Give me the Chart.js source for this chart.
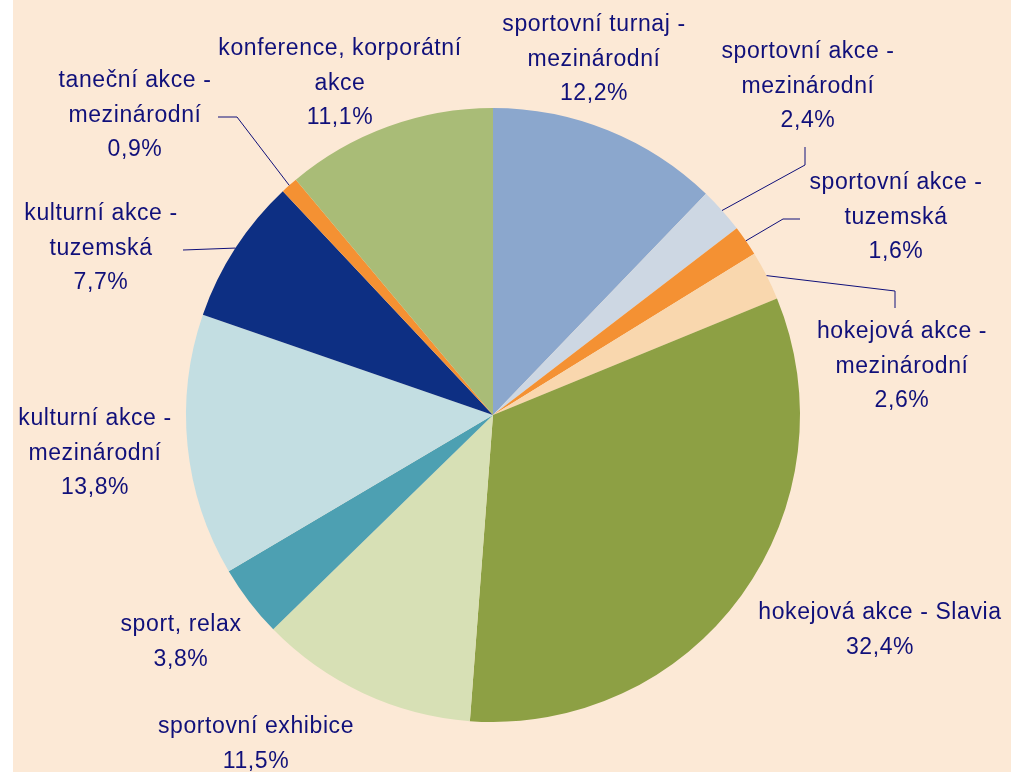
<!DOCTYPE html>
<html>
<head>
<meta charset="utf-8">
<script src="https://cdn.jsdelivr.net/npm/chart.js@4/dist/chart.umd.min.js"></script>
<style>
  body { margin: 0; background: #ffffff; }
  #wrap { width: 1011px; height: 772px; position: relative; }
</style>
</head>
<body>
<div id="wrap"><canvas id="pieChart"></canvas></div>
<script>
// data
const categories = [
  ['sportovní turnaj -', 'mezinárodní'],
  ['sportovní akce -', 'mezinárodní'],
  ['sportovní akce -', 'tuzemská'],
  ['hokejová akce -', 'mezinárodní'],
  ['hokejová akce - Slavia'],
  ['sportovní exhibice'],
  ['sport, relax'],
  ['kulturní akce -', 'mezinárodní'],
  ['kulturní akce -', 'tuzemská'],
  ['taneční akce -', 'mezinárodní'],
  ['konference, korporátní', 'akce']
];
const shares = [12.2, 2.4, 1.6, 2.6, 32.4, 11.5, 3.8, 13.8, 7.7, 0.9, 11.1];
const sliceColors = ['#8BA7CD', '#CDD7E3', '#F49133', '#F9D7AE', '#8DA044', '#D7E0B5',
                     '#4DA0B2', '#C3DEE2', '#0D2F83', '#F49133', '#A9BC77'];

// where each label sits (center x, first line y) and its leader line bends
const labelPos = [
  { x: 594, y: 25 },
  { x: 808, y: 52, line: [[805, 165], [805, 147]] },
  { x: 896, y: 183, line: [[783, 219], [800, 219]] },
  { x: 902, y: 332, line: [[895, 291], [895, 308]] },
  { x: 880, y: 613 },
  { x: 256, y: 727 },
  { x: 181, y: 625 },
  { x: 95, y: 419 },
  { x: 101, y: 214, line: [[183, 250]] },
  { x: 135, y: 81, line: [[237, 117], [218, 117]] },
  { x: 340, y: 49 }
];

const textColor = '#10107A';
const lineHeight = 34.5;

const background = {
  id: 'background',
  beforeDraw(chart) {
    const ctx = chart.ctx;
    ctx.save();
    ctx.fillStyle = '#ffffff';
    ctx.fillRect(0, 0, chart.width, chart.height);
    ctx.fillStyle = '#FCE9D6';
    ctx.fillRect(13, 0, chart.width - 13, chart.height);
    ctx.restore();
  }
};

const sliceLabels = {
  id: 'sliceLabels',
  afterDraw(chart) {
    const ctx = chart.ctx;
    const arcs = chart.getDatasetMeta(0).data;
    ctx.save();
    ctx.font = '23px "Liberation Sans", Arial, sans-serif';
    ctx.letterSpacing = '0.6px';
    ctx.fillStyle = textColor;
    ctx.strokeStyle = textColor;
    ctx.lineWidth = 1;
    ctx.textAlign = 'center';
    ctx.textBaseline = 'middle';
    arcs.forEach((arc, i) => {
      const pos = labelPos[i];
      if (pos.line) {
        const p = arc.getProps(['x', 'y', 'startAngle', 'endAngle', 'outerRadius'], true);
        const mid = (p.startAngle + p.endAngle) / 2;
        ctx.beginPath();
        ctx.moveTo(p.x + Math.cos(mid) * p.outerRadius, p.y + Math.sin(mid) * p.outerRadius);
        pos.line.forEach(pt => ctx.lineTo(pt[0], pt[1]));
        ctx.stroke();
      }
      const lines = categories[i].concat([shares[i].toFixed(1).replace('.', ',') + '%']);
      lines.forEach((t, k) => ctx.fillText(t, pos.x, pos.y + k * lineHeight));
    });
    ctx.restore();
  }
};

new Chart(document.getElementById('pieChart'), {
  type: 'pie',
  data: {
    labels: categories,
    datasets: [{
      data: shares,
      backgroundColor: sliceColors,
      borderWidth: 0
    }]
  },
  options: {
    responsive: true,
    maintainAspectRatio: false,
    animation: false,
    layout: { padding: { left: 186, right: 211, top: 108, bottom: 50 } },
    plugins: {
      legend: { display: false },
      tooltip: { enabled: false }
    }
  },
  plugins: [background, sliceLabels]
});
</script>
</body>
</html>
